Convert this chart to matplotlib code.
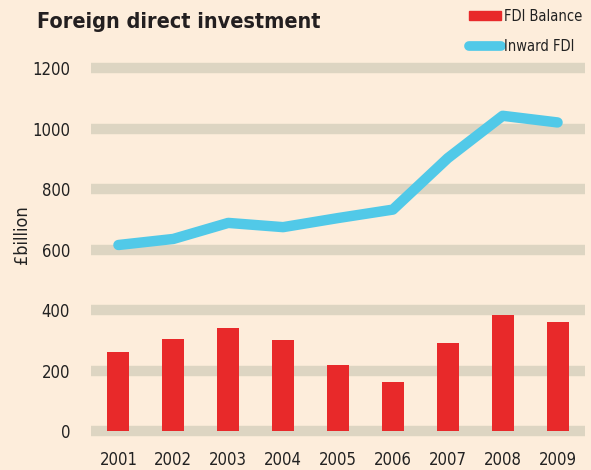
import matplotlib.pyplot as plt
from matplotlib.lines import Line2D
from matplotlib.patches import Patch

years = ["2001", "2002", "2003", "2004", "2005", "2006", "2007", "2008", "2009"]
fdi_balance = [260, 303, 341, 300, 217, 161, 290, 382, 359]
inward_fdi = [615, 635, 688, 674, 704, 732, 902, 1042, 1020]
yticks = [0, 200, 400, 600, 800, 1000, 1200]

bg = "#fdeddb"
grid_col = "#ddd5c2"
red = "#e8292a"
blue = "#51c9e8"

# condensed face to mimic the narrow newspaper font
plt.rcParams['font.family'] = ['DejaVu Sans']
plt.rcParams['font.stretch'] = 'condensed'

fig = plt.figure(figsize=(5.91, 4.70), dpi=100, facecolor=bg)
# axes in pixel terms: left 91, right 585, bottom 445, top 58
ax = fig.add_axes([91 / 591, 1 - 445 / 470, (585 - 91) / 591, (445 - 58) / 470])
ax.set_facecolor(bg)

for v in yticks:
    ax.axhline(v, color=grid_col, lw=7.5, zorder=1)

x = range(len(years))
ax.bar(x, fdi_balance, width=0.4, color=red, zorder=2)
ax.plot(x, inward_fdi, color=blue, lw=7.5, solid_capstyle='round',
        solid_joinstyle='round', zorder=3)

ax.set_xlim(-0.5, 8.5)
ax.set_ylim(-46, 1233)
ax.set_yticks(yticks)
ax.set_yticklabels([str(v) for v in yticks], fontsize=12)
ax.set_xticks(list(x))
ax.set_xticklabels(years, fontsize=12)
ax.tick_params(axis='both', length=0, colors="#222222")
ax.tick_params(axis='y', pad=15)
ax.tick_params(axis='x', pad=4)
for s in ax.spines.values():
    s.set_visible(False)

fig.text(22 / 591, 1 - 235 / 470, "£billion", fontsize=13, color="#222222",
         rotation=90, ha='center', va='center')

fig.text(37 / 591, 1 - 22 / 470, "Foreign direct investment", fontsize=15.5,
         fontweight='bold', color="#231f20", va='center', ha='left')

handles = [Patch(color=red),
           Line2D([0], [0], color=blue, lw=7, solid_capstyle='round')]
leg = fig.legend(handles, ["FDI Balance", "Inward FDI"], loc='upper left',
                 bbox_to_anchor=(469 / 591, 1 - 9 / 470), frameon=False,
                 borderpad=0, borderaxespad=0,
                 fontsize=10.5, handlelength=2.2, handleheight=0.6,
                 handletextpad=0.2, labelspacing=1.0)
for t in leg.get_texts():
    t.set_color("#222222")

fig.savefig("out.png", dpi=100, facecolor=bg)
